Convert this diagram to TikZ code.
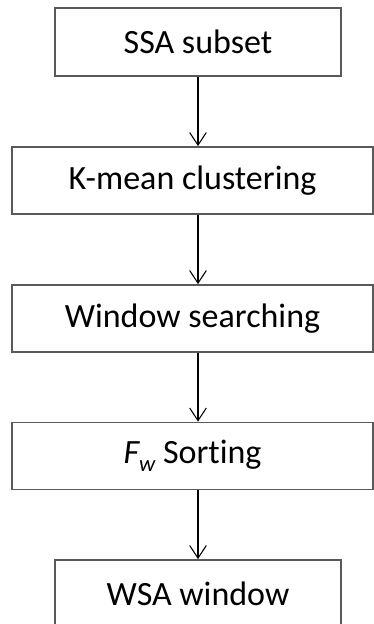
\documentclass[tikz,border=0pt]{standalone}
\usepackage{fontspec}
\setmainfont{Carlito}[Ligatures={NoCommon}]
\usetikzlibrary{arrows.meta}
\tikzset{
  stepbox/.style={draw=black!65, line width=1.3pt, fill=white, inner sep=0pt,
    font=\fontsize{25.5}{31}\selectfont, text=black},
  wide/.style={stepbox, minimum width=270.75pt, minimum height=50.25pt},
  narrow/.style={stepbox, minimum width=214.5pt, minimum height=51pt},
  flow/.style={draw=black, line width=0.8pt,
    -{Straight Barb[length=9.5pt, width=12.5pt, line width=0.8pt]}}
}
\begin{document}
\begin{tikzpicture}[x=0.75pt, y=-0.75pt]
  \useasboundingbox (0,0) rectangle (374,624);
  \node[narrow] (ssa)  at (198,42)    {SSA subset};
  \node[wide]   (kmc)  at (192.5,180.5) {K-mean clustering};
  \node[wide]   (win)  at (192.5,318.5) {Window searching};
  \node[wide]   (fws)  at (192.5,456)   {{\itshape F}\raisebox{-0.5ex}{\fontsize{17}{20}\selectfont\itshape w} Sorting};
  \node[narrow] (wsa)  at (198,594)   {WSA window};
  \draw[flow] (ssa.south -| 198,0) -- (kmc.north -| 198,0);
  \draw[flow] (kmc.south -| 198,0) -- (win.north -| 198,0);
  \draw[flow] (win.south -| 198,0) -- (fws.north -| 198,0);
  \draw[flow] (fws.south -| 198,0) -- (wsa.north -| 198,0);
\end{tikzpicture}
\end{document}
